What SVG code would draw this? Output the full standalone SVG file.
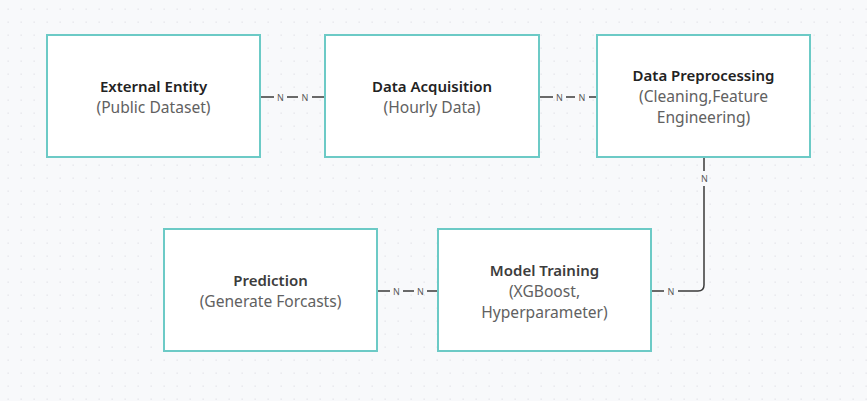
<svg xmlns="http://www.w3.org/2000/svg" width="867" height="401" viewBox="0 0 867 401">
<defs>
<pattern id="dots" x="0" y="0" width="13" height="13" patternUnits="userSpaceOnUse">
<rect x="7.5" y="8.5" width="1.3" height="1.3" fill="#e2e3e8"/>
</pattern>
<style>
.box{fill:#ffffff;stroke:#6ccac6;stroke-width:2}
.t{font-family:"Noto Sans","Open Sans",sans-serif;font-size:15px;text-anchor:middle}
.h{font-weight:600;fill:#222}
.h2{font-weight:600;fill:#3c3c3c}
.s{fill:#616161;font-size:15.6px}
.c{fill:none;stroke:#3a3a3a;stroke-width:1.5}
.n{font-family:"Noto Sans","Open Sans",sans-serif;font-size:9px;fill:#5a5a5a;text-anchor:middle}
</style>
</defs>
<rect width="867" height="401" fill="#f8f9fb"/>
<rect width="867" height="401" fill="url(#dots)"/>
<g id="connectors">
<path class="c" d="M260 97H274M287 97H298M312 97H325"/>
<text class="n" x="280.5" y="100.5">N</text>
<text class="n" x="305" y="100.5">N</text>
<path class="c" d="M539 97H553M566 97H575M589 97H597"/>
<text class="n" x="559.5" y="100.5">N</text>
<text class="n" x="582" y="100.5">N</text>
<path class="c" d="M704 157V171M704 186V285Q704 291 698 291H678M664 291H651"/>
<text class="n" x="704.5" y="181.5">N</text>
<text class="n" x="671" y="294.5">N</text>
<path class="c" d="M377 291H390M403 291H414M427 291H438"/>
<text class="n" x="396.5" y="294.5">N</text>
<text class="n" x="420.5" y="294.5">N</text>
</g>
<g id="external-entity">
<rect class="box" x="47" y="35" width="213" height="122"/>
<text class="t h" x="153.5" y="92">External Entity</text>
<text class="t s" x="153.5" y="113">(Public Dataset)</text>
</g>
<g id="data-acquisition">
<rect class="box" x="325" y="35" width="214" height="122"/>
<text class="t h" x="432" y="92">Data Acquisition</text>
<text class="t s" x="432" y="113">(Hourly Data)</text>
</g>
<g id="data-preprocessing">
<rect class="box" x="597" y="35" width="213" height="122"/>
<text class="t h" x="703.5" y="81">Data Preprocessing</text>
<text class="t s" x="703.5" y="102">(Cleaning,Feature</text>
<text class="t s" x="703.5" y="123">Engineering)</text>
</g>
<g id="prediction">
<rect class="box" x="164" y="229" width="213" height="122"/>
<text class="t h2" x="270.5" y="286">Prediction</text>
<text class="t s" x="270.5" y="307">(Generate Forcasts)</text>
</g>
<g id="model-training">
<rect class="box" x="438" y="229" width="213" height="122"/>
<text class="t h2" x="544.5" y="276">Model Training</text>
<text class="t s" x="544.5" y="297">(XGBoost,</text>
<text class="t s" x="544.5" y="318">Hyperparameter)</text>
</g>
</svg>
